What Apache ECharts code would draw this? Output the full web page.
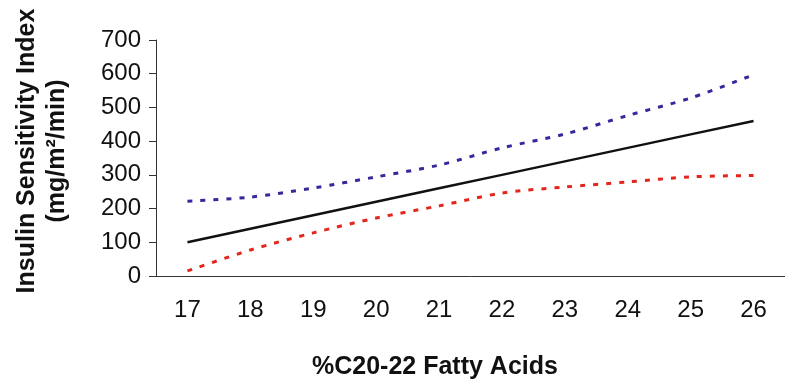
<!DOCTYPE html>
<html>
<head>
<meta charset="utf-8">
<script src="https://cdn.jsdelivr.net/npm/echarts@6/dist/echarts.min.js"></script>
<style>
  html, body { margin: 0; padding: 0; background: #fff; }
  #chart { width: 785px; height: 380px; }
</style>
</head>
<body>
<div id="chart"></div>
<script>
// values
const categories = ["17", "18", "19", "20", "21", "22", "23", "24", "25", "26"];
const fitLine = [100, 140, 180, 220, 260, 300, 340, 380, 420, 460];
const upperBand = [222, 234, 261, 294, 329, 380, 421, 476, 528, 597];
const lowerBand = [15, 77, 128, 172, 208, 246, 264, 279, 294, 298];
const yTicks = [0, 700, 100]; // min, max, interval

const myChart = echarts.init(document.getElementById("chart"));
const font = "Liberation Sans, Arial, sans-serif";

let option = {
  animation: false,
  grid: { left: 156, right: 0, top: 40, bottom: 104, outerBoundsMode: "none", containLabel: false },
  title: {
    text: "%C20-22 Fatty Acids",
    left: 312,
    top: 355,
    padding: 0,
    textStyle: { fontFamily: font, fontSize: 25, fontWeight: "bold", color: "#111" }
  },
  xAxis: {
    type: "category",
    data: categories,
    boundaryGap: true,
    axisLine: { lineStyle: { color: "#333", width: 1 } },
    axisTick: { length: 7, lineStyle: { color: "#333" } },
    axisLabel: { fontFamily: font, fontSize: 24, color: "#111", margin: 22 }
  },
  yAxis: {
    type: "value",
    min: yTicks[0],
    max: yTicks[1],
    interval: yTicks[2],
    name: "Insulin Sensitivity Index\n(mg/m\u00b2/min)",
    nameLocation: "middle",
    nameRotate: 90,
    nameGap: 84,
    nameTextStyle: { fontFamily: font, fontSize: 25, fontWeight: "bold", color: "#111", lineHeight: 30, padding: [0, 0, 0, 14] },
    splitLine: { show: false },
    axisLine: { show: true, lineStyle: { color: "#333", width: 1 } },
    axisTick: { show: true, length: 7, lineStyle: { color: "#333" } },
    axisLabel: { fontFamily: font, fontSize: 24, color: "#111", margin: 15 }
  },
  series: [
    {
      type: "line",
      data: upperBand,
      smooth: 0.3,
      symbol: "none",
      lineStyle: { color: "#35289a", width: 3, type: [5, 8] }
    },
    {
      type: "line",
      data: fitLine,
      symbol: "none",
      lineStyle: { color: "#111", width: 2.5 }
    },
    {
      type: "line",
      data: lowerBand,
      smooth: 0.3,
      symbol: "none",
      lineStyle: { color: "#e3261c", width: 3, type: [5, 8] }
    }
  ]
};
myChart.setOption(option);
</script>
</body>
</html>
